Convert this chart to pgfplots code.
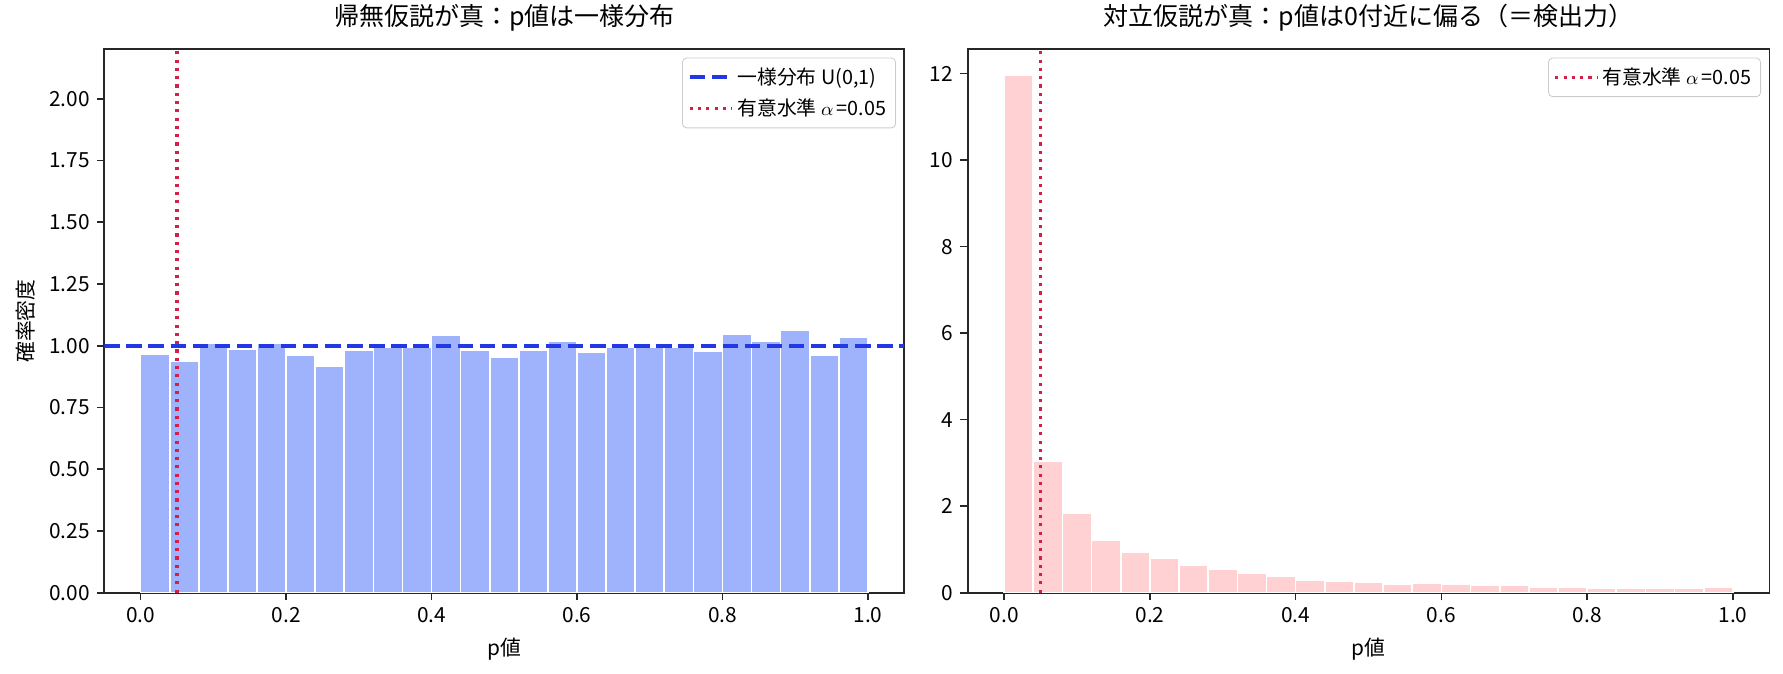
\documentclass[border=0pt]{standalone}
\usepackage{fontspec}
\setmainfont{Noto Sans CJK JP}
\usepackage{pgfplots}
\pgfplotsset{compat=1.18}
\definecolor{barblue}{RGB}{158,179,251}
\definecolor{barred}{RGB}{255,209,211}
\definecolor{lineblue}{RGB}{35,55,228}
\definecolor{linered}{RGB}{212,32,72}
\definecolor{spine}{RGB}{38,38,38}
\pgfplotsset{
  myaxis/.style={
    scale only axis,
    anchor=south west,
    axis line style={spine, line width=0.8pt},
    tick style={spine, line width=0.8pt},
    tick align=outside,
    major tick length=3.5pt,
    xtick pos=bottom, ytick pos=left,
    /pgf/number format/assume math mode=true,
    tick label style={font=\fontsize{10}{12}\selectfont},
    label style={font=\fontsize{10}{12}\selectfont},
    title style={font=\fontsize{12}{14}\selectfont, at={(0.5,1)}, anchor=base, yshift=5.5pt},
    xlabel style={at={(0.5,0)}, anchor=base, yshift=-29.9pt},
    xmin=-0.05, xmax=1.05, ymin=0,
    xtick={0,0.2,0.4,0.6,0.8,1.0},
    xticklabel style={/pgf/number format/.cd, fixed, fixed zerofill, precision=1},
    legend cell align=left,
    legend style={font=\fontsize{9.5}{11.5}\selectfont, draw=black!20, rounded corners=2pt,
      fill=white, fill opacity=0.8, text opacity=1, at={(1,1)}, anchor=north east,
      xshift=-4pt, yshift=-4pt, row sep=1.5pt, inner sep=2.5pt},
    legend image code/.code={\draw[##1] (0cm,0cm) -- (0.7cm,0cm);},
  }
}
\begin{document}
\begin{tikzpicture}
\useasboundingbox (0,0) rectangle (855.84pt,323.52pt);
\begin{axis}[myaxis,
  at={(50.06pt,39.02pt)}, width=384pt, height=260.83pt,
  ymax=2.2,
  ytick={0,0.25,0.5,0.75,1.0,1.25,1.5,1.75,2.0},
  yticklabel style={/pgf/number format/.cd, fixed, fixed zerofill, precision=2},
  title={帰無仮説が真：p値は一様分布},
  xlabel={p値}, ylabel={確率密度},
]
\addplot[ybar interval, fill=barblue, draw=white, line width=0.8pt, forget plot] coordinates {
(0.00,0.967) (0.04,0.937) (0.08,1.009) (0.12,0.985) (0.16,1.009)
(0.20,0.961) (0.24,0.917) (0.28,0.981) (0.32,0.996) (0.36,0.996)
(0.40,1.041) (0.44,0.981) (0.48,0.953) (0.52,0.981) (0.56,1.017)
(0.60,0.973) (0.64,0.993) (0.68,0.993) (0.72,0.993) (0.76,0.977)
(0.80,1.045) (0.84,1.017) (0.88,1.061) (0.92,0.961) (0.96,1.033)
(1.00,1.033)
};
\addplot[lineblue, line width=2pt, dash pattern=on 7.4pt off 3.2pt] coordinates {(-0.05,1) (1.05,1)};
\addlegendentry{一様分布 U(0,1)}
\addplot[linered, line width=1.5pt, dash pattern=on 1.5pt off 2.475pt] coordinates {(0.05,0) (0.05,2.2)};
\addlegendentry{有意水準 $\alpha$\,=0.05}
\end{axis}
\begin{axis}[myaxis,
  at={(464.50pt,39.02pt)}, width=384.77pt, height=260.83pt,
  ymax=12.56,
  ytick={0,2,4,6,8,10,12},
  title={対立仮説が真：p値は0付近に偏る（＝検出力）},
  xlabel={p値},
]
\addplot[ybar interval, fill=barred, draw=white, line width=0.8pt, forget plot] coordinates {
(0.00,11.96) (0.04,3.03) (0.08,1.84) (0.12,1.21) (0.16,0.93)
(0.20,0.80) (0.24,0.64) (0.28,0.54) (0.32,0.45) (0.36,0.38)
(0.40,0.29) (0.44,0.26) (0.48,0.24) (0.52,0.20) (0.56,0.22)
(0.60,0.20) (0.64,0.17) (0.68,0.17) (0.72,0.12) (0.76,0.12)
(0.80,0.11) (0.84,0.11) (0.88,0.11) (0.92,0.11) (0.96,0.12)
(1.00,0.12)
};
\addplot[linered, line width=1.5pt, dash pattern=on 1.5pt off 2.475pt] coordinates {(0.05,0) (0.05,12.56)};
\addlegendentry{有意水準 $\alpha$\,=0.05}
\end{axis}
\end{tikzpicture}
\end{document}
